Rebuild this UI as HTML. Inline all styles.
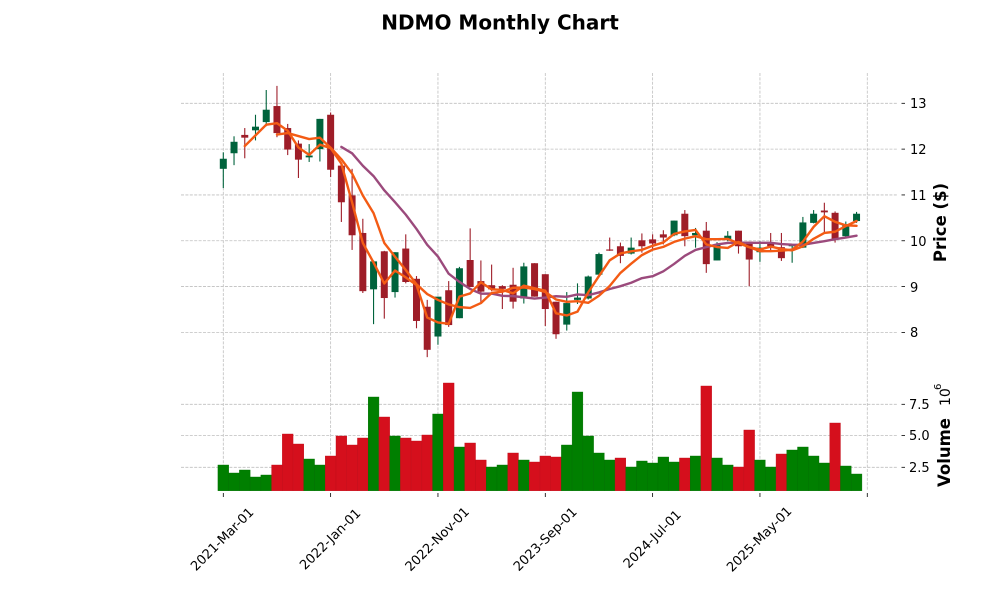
<!DOCTYPE html>
<html><head><meta charset="utf-8"><style>
html,body{margin:0;padding:0;background:#fff;}
svg{display:block;font-family:"DejaVu Sans","Liberation Sans",sans-serif;}
</style></head><body>
<svg id="c" width="1000" height="600" viewBox="0 0 1000 600" xmlns="http://www.w3.org/2000/svg">
<rect width="1000" height="600" fill="#fff"/>
<text x="500" y="29.5" text-anchor="middle" font-size="20" font-weight="bold" fill="#000">NDMO Monthly Chart</text>
<g id="grid" stroke="#bfbfbf" stroke-width="0.8" stroke-dasharray="3 1.4" fill="none"></g>
<g id="vol"></g>
<g id="candles"></g>
<g id="mas" fill="none" stroke-linejoin="round" stroke-linecap="round"></g>
<g id="ticks" stroke="#000" stroke-width="0.8"></g>
<g font-size="13" fill="#000">
<text x="910" y="108">13</text>
<text x="910" y="154">12</text>
<text x="910" y="200">11</text>
<text x="910" y="246">10</text>
<text x="910" y="292">9</text>
<text x="910" y="337">8</text>
<text x="909" y="409">7.5</text>
<text x="909" y="440">5.0</text>
<text x="909" y="472">2.5</text>
</g>
<text transform="translate(946,222.5) rotate(-90)" text-anchor="middle" font-size="16.5" font-weight="bold" fill="#000">Price ($)</text>
<text transform="translate(950,452.5) rotate(-90)" text-anchor="middle" font-size="16.5" font-weight="bold" fill="#000">Volume</text>
<text transform="translate(950,406) rotate(-90)" font-size="14" fill="#000">10</text>
<text transform="translate(941,390) rotate(-90)" font-size="10" fill="#000">6</text>
<g font-size="13" fill="#000" text-anchor="middle">
<text transform="translate(222,539) rotate(-45)" dy="0.35em">2021-Mar-01</text>
<text transform="translate(330,539) rotate(-45)" dy="0.35em">2022-Jan-01</text>
<text transform="translate(437,539) rotate(-45)" dy="0.35em">2022-Nov-01</text>
<text transform="translate(545,539) rotate(-45)" dy="0.35em">2023-Sep-01</text>
<text transform="translate(652,539) rotate(-45)" dy="0.35em">2024-Jul-01</text>
<text transform="translate(759,539) rotate(-45)" dy="0.35em">2025-May-01</text>
</g>
</svg>
<script>
(function(){
var NS="http://www.w3.org/2000/svg";
function el(p,t,a){var e=document.createElementNS(NS,t);for(var k in a)e.setAttribute(k,a[k]);p.appendChild(e);return e;}
var D=[
[11.57,11.93,11.15,11.79],[11.91,12.28,11.65,12.16],[12.31,12.46,11.80,12.25],[12.41,12.75,12.19,12.49],
[12.59,13.29,12.50,12.86],[12.94,13.38,12.26,12.35],[12.46,12.55,11.87,11.99],[12.12,12.19,11.37,11.77],
[11.82,12.11,11.72,11.86],[12.00,12.66,11.73,12.66],[12.75,12.80,11.39,11.55],[11.64,11.66,10.41,10.84],
[10.99,11.57,9.80,10.12],[10.17,10.48,8.86,8.90],[8.94,9.57,8.18,9.55],[9.77,9.78,8.30,8.75],
[8.88,9.75,8.76,9.75],[9.83,10.14,9.07,9.10],[9.17,9.23,8.09,8.25],[8.56,8.71,7.46,7.62],
[7.91,8.78,7.73,8.78],[8.92,9.12,8.12,8.16],[8.31,9.43,8.31,9.40],[9.58,10.27,8.99,8.99],
[9.12,9.57,8.65,8.89],[9.03,9.48,8.90,8.94],[9.01,9.03,8.51,8.95],[9.04,9.41,8.52,8.67],
[8.74,9.52,8.63,9.44],[9.51,9.51,8.78,8.78],[9.27,9.27,8.14,8.51],[8.67,8.67,7.86,7.96],
[8.17,8.88,8.04,8.64],[8.71,9.07,8.62,8.76],[8.74,9.24,8.72,9.22],[9.26,9.74,9.25,9.71],
[9.81,10.07,9.78,9.79],[9.88,9.96,9.51,9.67],[9.72,10.07,9.70,9.85],[10.01,10.16,9.74,9.88],
[10.03,10.14,9.81,9.94],[10.14,10.23,9.92,10.07],[10.12,10.44,10.10,10.44],[10.59,10.67,9.88,10.10],
[10.12,10.28,9.85,10.17],[10.22,10.41,9.30,9.49],[9.57,9.97,9.57,9.93],[10.03,10.21,9.99,10.11],
[10.22,10.22,9.72,9.88],[9.98,9.98,9.01,9.59],[9.75,9.99,9.54,9.85],[9.93,10.17,9.78,9.88],
[9.86,10.17,9.56,9.62],[9.88,9.92,9.52,9.92],[9.85,10.52,9.84,10.40],[10.39,10.67,10.38,10.59],
[10.66,10.83,10.19,10.62],[10.61,10.64,9.96,10.03],[10.10,10.42,10.07,10.36],[10.43,10.63,10.39,10.59]];
var VZ=[285,309,300,321,315,285,192,222,267,285,258,198,225,204,81,141,198,204,213,195,132,39,231,219,270,291,285,249,270,276,258,261,225,66,198,249,270,264,291,273,279,261,276,264,258,48,264,285,291,180,270,291,252,240,231,258,279,159,288,312];
var VC="GGGGGRRRGGRRRRGRGRRRGRGRRGGRGRRRGGGGGRGGGGGRGRGGRRGGRGGGGRGG";
var X0=223.3,DX=10.733;
function X(i){return X0+i*DX;}
function Y(p){return 103.3+(13-p)*45.82;}
var grid=document.getElementById('grid');
[13,12,11,10,9,8].forEach(function(p){var y=Y(p);el(grid,'line',{x1:181,x2:897,y1:y,y2:y});});
[404.3,435.5,467.3].forEach(function(y){el(grid,'line',{x1:181,x2:897,y1:y,y2:y});});
for(var k=0;k<=6;k++){var x=X(k*10);el(grid,'line',{x1:x,x2:x,y1:73,y2:490.7});}
var ticks=document.getElementById('ticks');
[13,12,11,10,9,8].forEach(function(p){var y=Y(p);el(ticks,'line',{x1:901.5,x2:905,y1:y,y2:y});});
[404.3,435.5,467.3].forEach(function(y){el(ticks,'line',{x1:901.5,x2:905,y1:y,y2:y});});
for(var k=0;k<=6;k++){var x=X(k*10);el(ticks,'line',{x1:x,x2:x,y1:493,y2:497});}
var vol=document.getElementById('vol');
for(var i=0;i<60;i++){var top=370+VZ[i]/3;var c=VC[i]=='G'?'#007f00':'#d50f1c';
 el(vol,'rect',{x:X(i)-DX/2,y:top,width:DX,height:490.7-top,fill:c,stroke:VC[i]=='G'?'#006f00':'#c00d19','stroke-width':0.4});}
var cg=document.getElementById('candles');
for(var i=0;i<60;i++){var d=D[i],o=d[0],h=d[1],l=d[2],c=d[3];var up=c>=o;var col=up?'#00633c':'#9e1d28';
 var x=X(i);
 el(cg,'line',{x1:x,x2:x,y1:Y(h),y2:Y(l),stroke:col,'stroke-width':1.1});
 var t=Y(Math.max(o,c)),b=Y(Math.min(o,c));if(b-t<1.2){b=t+1.2;}
 el(cg,'rect',{x:x-3.5,y:t,width:7,height:b-t,fill:col});}
var mg=document.getElementById('mas');
function ma(n,color){var pts=[];for(var i=n-1;i<60;i++){var s=0;for(var j=i-n+1;j<=i;j++)s+=D[j][3];pts.push(X(i).toFixed(2)+','+Y(s/n).toFixed(2));}
 el(mg,'polyline',{points:pts.join(' '),stroke:color,'stroke-width':2.4});}
ma(12,'#9b4a7c');ma(6,'#f35b14');ma(3,'#f35b14');
})();
</script>
</body></html>
